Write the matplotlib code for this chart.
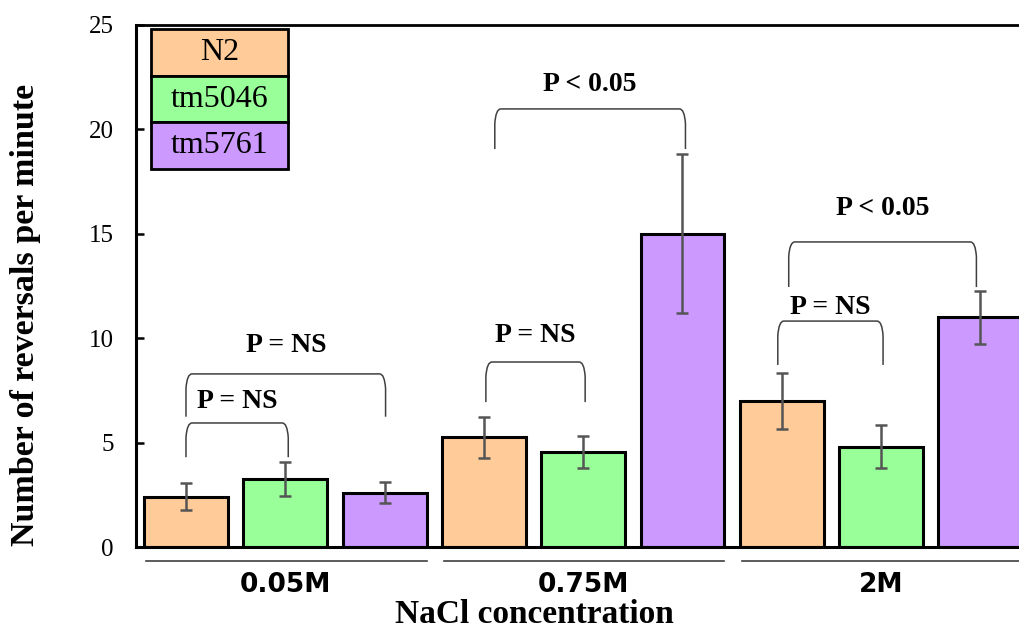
import numpy as np
import matplotlib
matplotlib.use('Agg')
import matplotlib.pyplot as plt
from matplotlib.path import Path
from matplotlib.patches import PathPatch
import matplotlib.transforms as mtransforms

plt.rcParams['font.family'] = ['Liberation Serif', 'DejaVu Serif']

# données
concentrations = ['0.05M', '0.75M', '2M']
souches = ['N2', 'tm5046', 'tm5761']
moyennes = {
    'N2': [2.4, 5.25, 7.0],
    'tm5046': [3.25, 4.55, 4.8],
    'tm5761': [2.6, 15.0, 11.0],
}
erreurs = {
    'N2': [0.65, 1.0, 1.35],
    'tm5046': [0.82, 0.75, 1.03],
    'tm5761': [0.5, 3.8, 1.28],
}
couleurs = ['#FFCC99', '#99FF99', '#CC99FF']

# crochets de significativité : (x gauche, x droite, y haut, y bas, texte, y texte)
crochets = [
    (0.0, 1.03, 5.94, 4.3, 'P = NS', 6.95),
    (0.0, 2.01, 8.29, 6.24, 'P = NS', 9.67),
    (3.02, 4.02, 8.86, 6.94, 'P = NS', 10.15),
    (3.11, 5.03, 20.98, 19.06, 'P < 0.05', 22.17),
    (5.96, 7.02, 10.82, 8.72, 'P = NS', 11.45),
    (6.07, 7.96, 14.61, 12.45, 'P < 0.05', 16.19),
]

fig = plt.figure(figsize=(10.19, 6.31), dpi=100)
ax = fig.add_axes([0.1335, 0.1331, 0.8665, 0.8273])

largeur = 0.845
for j, s in enumerate(souches):
    x = np.arange(len(concentrations)) * 3 + j
    ax.bar(x, moyennes[s], width=largeur, color=couleurs[j],
           edgecolor='black', linewidth=2.2, zorder=2)
    ax.errorbar(x, moyennes[s], yerr=erreurs[s], fmt='none',
                ecolor='#555555', elinewidth=1.8, capsize=4.5,
                capthick=1.8, zorder=3)


def crochet(x1, x2, yh, yb, texte, yt):
    dx, dy = 0.06, 0.7
    verts = [(x1, yb), (x1, yh - dy), (x1 + 0.01, yh), (x1 + dx, yh),
             (x2 - dx, yh), (x2 - 0.01, yh), (x2, yh - dy), (x2, yb)]
    codes = [Path.MOVETO, Path.LINETO, Path.CURVE3, Path.CURVE3,
             Path.LINETO, Path.CURVE3, Path.CURVE3, Path.LINETO]
    ax.add_patch(PathPatch(Path(verts, codes), fill=False,
                           edgecolor='#404040', linewidth=1.1, zorder=4))
    ax.text((x1 + x2) / 2, yt, texte, ha='center', va='center',
            fontsize=20, fontweight='bold')


for c in crochets:
    crochet(*c)

# axes
ax.set_xlim(-0.503, 8.389)
ax.set_ylim(0, 25)
ax.set_yticks(np.arange(0, 26, 5))
ax.tick_params(axis='y', direction='in', length=6, width=1.8,
               labelsize=18, pad=16)
ax.spines['left'].set_linewidth(2.2)
ax.spines['bottom'].set_linewidth(2.2)
ax.spines['top'].set_linewidth(2.0)
ax.spines['right'].set_visible(False)

ax.set_xticks(np.arange(len(concentrations)) * 3 + 1)
ax.set_xticklabels(concentrations, fontfamily='DejaVu Sans',
                   fontweight='bold', fontsize=19)
ax.tick_params(axis='x', length=0, pad=18)

# traits sous chaque groupe
trans = mtransforms.blended_transform_factory(ax.transData, ax.transAxes)
for g in range(len(concentrations)):
    x0 = g * 3 - largeur / 2 + 0.02
    x1 = g * 3 + 2 + largeur / 2
    ax.plot([x0, x1], [-0.027, -0.027], color='#404040', linewidth=1.2,
            transform=trans, clip_on=False)

ax.set_ylabel('Number of reversals per minute', fontsize=24.5,
              fontweight='bold', va='center')
ax.yaxis.set_label_coords(-0.1257, 0.444)
ax.set_xlabel('NaCl concentration', fontsize=24, fontweight='bold',
              va='center')
ax.xaxis.set_label_coords(0.451, -0.129)

# légende sous forme de tableau coloré
tab = ax.table(cellText=[[s] for s in souches],
               cellColours=[[c] for c in couleurs],
               cellLoc='center', bbox=[0.017, 0.724, 0.155, 0.268])
tab.auto_set_font_size(False)
tab.set_fontsize(23)
for cell in tab.get_celld().values():
    cell.set_linewidth(2.0)
    cell.set_edgecolor('black')
tab.set_zorder(5)

plt.savefig('out.png', dpi=100)
